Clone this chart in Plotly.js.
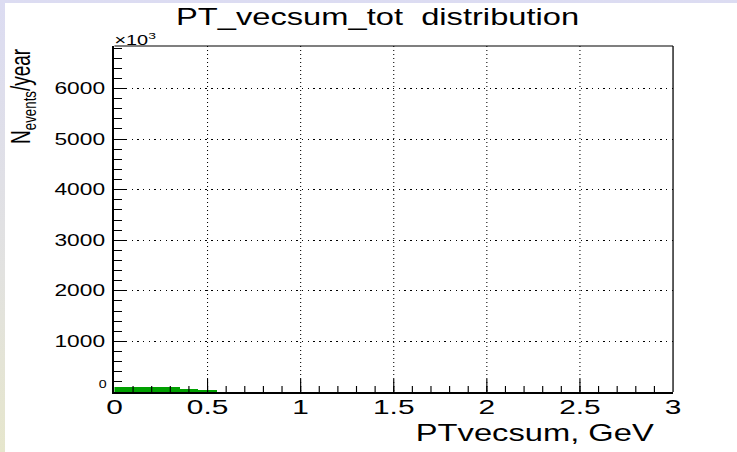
<!DOCTYPE html>
<html>
<head>
<meta charset="utf-8">
<script src="https://cdn.plot.ly/plotly-3.0.1.min.js"></script>
<style>
  html, body { margin: 0; padding: 0; }
  body {
    width: 737px; height: 452px; overflow: hidden; position: relative;
    background: linear-gradient(to bottom, #dcdcf2 0%, #e2e2e0 60%, #e6e6cc 100%);
  }
  #wrap {
    position: absolute; left: 5px; top: 3px; width: 732px; height: 449px;
    background: #ffffff; overflow: hidden;
  }
  #plot {
    position: absolute; left: 0; top: 0; width: 515px; height: 449px;
    transform: scaleX(1.42136); transform-origin: 0 0;
  }
</style>
</head>
<body>
<div id="wrap"><div id="plot"></div></div>
<script>
// Histogram data (N_events/year in units of 10^3), bin width 0.05 GeV
const binCenters = [0.025, 0.075, 0.125, 0.175, 0.225, 0.275, 0.325, 0.375, 0.425, 0.475, 0.525, 0.575, 0.625, 0.675];
const counts     = [95, 94, 93, 92, 91, 90, 90, 62, 58, 35, 32, 6, 3, 1];
const binWidth = 0.05;
const yTickVals = [1000, 2000, 3000, 4000, 5000, 6000];
const xTickVals = [0, 0.5, 1, 1.5, 2, 2.5, 3];
const xTickText = ["0", "0.5", "1", "1.5", "2", "2.5", "3"];

const FONT = "Liberation Sans, Arial, Helvetica, sans-serif";

const trace = {
  type: "bar",
  x: binCenters,
  y: counts,
  width: binWidth,
  marker: { color: "#00a000", line: { width: 0 } },
  hoverinfo: "skip"
};

const layout = {
  width: 515, height: 449,
  margin: { l: 77, r: 45, t: 43, b: 60, pad: 0 },
  paper_bgcolor: "#ffffff",
  plot_bgcolor: "#ffffff",
  showlegend: false,
  bargap: 0,
  font: { family: FONT, color: "#000000" },
  title: {
    text: "PT_vecsum_tot  distribution",
    font: { family: FONT, size: 23, color: "#000000" },
    xref: "container", yref: "container",
    x: 0.509, xanchor: "center",
    y: 0.968, yanchor: "middle"
  },
  xaxis: {
    range: [0, 3],
    tickmode: "array", tickvals: xTickVals, ticktext: xTickText,
    ticks: "inside", ticklen: 13, tickwidth: 0.8, tickcolor: "#000000",
    minor: { dtick: 0.1, ticks: "inside", ticklen: 6, tickwidth: 0.8, tickcolor: "#000000", showgrid: false },
    tickfont: { family: FONT, size: 21, color: "#000000" },
    ticklabelstandoff: -5,
    showline: true, linecolor: "#000000", linewidth: 2, mirror: false,
    showgrid: true, gridcolor: "#000000", gridwidth: 0.75, griddash: "1px,3px",
    zeroline: false, fixedrange: true
  },
  yaxis: {
    range: [0, 6840],
    tickmode: "array", tickvals: yTickVals,
    ticks: "inside", ticklen: 9, tickwidth: 1, tickcolor: "#000000",
    minor: { dtick: 200, ticks: "inside", ticklen: 5.5, tickwidth: 1, tickcolor: "#000000", showgrid: false },
    tickfont: { family: FONT, size: 16, color: "#000000" },
    ticklabelstandoff: 2,
    showline: true, linecolor: "#000000", linewidth: 1.4, mirror: false,
    showgrid: true, gridcolor: "#000000", gridwidth: 1, griddash: "1px,3px",
    zeroline: false, fixedrange: true
  },
  shapes: [
    { type: "line", xref: "paper", yref: "paper", x0: 0, x1: 1, y0: 1, y1: 1,
      line: { color: "#000000", width: 1 } },
    { type: "line", xref: "paper", yref: "paper", x0: 1, x1: 1, y0: 0, y1: 1,
      line: { color: "#000000", width: 0.9 } }
  ],
  annotations: [
    { text: "PTvecsum, GeV", xref: "paper", yref: "paper",
      x: 0.971, xanchor: "right", y: -0.118, yanchor: "middle",
      showarrow: false, font: { family: FONT, size: 23, color: "#000000" } },
    { text: "N<sub>events</sub>/year", xref: "paper", yref: "paper",
      x: -0.163, xanchor: "center", y: 1.0, yanchor: "top", textangle: -90,
      showarrow: false, font: { family: FONT, size: 19, color: "#000000" } },
    { text: "×10<sup>3</sup>", xref: "paper", yref: "paper",
      x: -0.004, xanchor: "left", y: 1.02, yanchor: "middle",
      showarrow: false, font: { family: FONT, size: 14, color: "#000000" } },
    { text: "0", xref: "paper", yref: "paper",
      x: -0.02, xanchor: "center", y: 0.022, yanchor: "middle",
      showarrow: false, font: { family: FONT, size: 10, color: "#000000" } }
  ]
};

Plotly.newPlot("plot", [trace], layout, { displayModeBar: false, staticPlot: true });
</script>
</body>
</html>
